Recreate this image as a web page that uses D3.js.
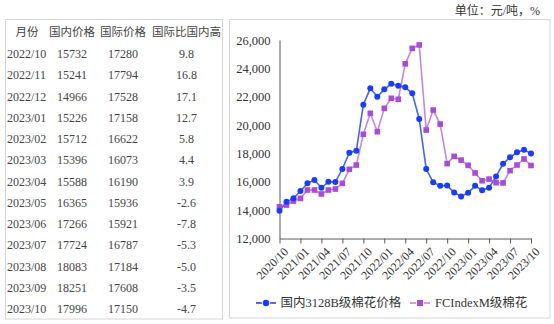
<!DOCTYPE html>
<html>
<head>
<meta charset="utf-8">
<script src="https://cdn.jsdelivr.net/npm/d3@7/dist/d3.min.js"></script>
<style>
  html, body { margin: 0; padding: 0; background: #fff; }
  svg { display: block; }
  text { font-family: "Liberation Serif", "Noto Sans CJK SC", serif; }
</style>
</head>
<body>
<svg id="chart" width="554" height="324"></svg>
<script>
// Monthly cotton prices, 2020/10 – 2023/10 (元/吨)
const months = [
  "2020/10","2020/11","2020/12","2021/01","2021/02","2021/03","2021/04","2021/05","2021/06",
  "2021/07","2021/08","2021/09","2021/10","2021/11","2021/12","2022/01","2022/02","2022/03",
  "2022/04","2022/05","2022/06","2022/07","2022/08","2022/09","2022/10","2022/11","2022/12",
  "2023/01","2023/02","2023/03","2023/04","2023/05","2023/06","2023/07","2023/08","2023/09","2023/10"
];

// 国内3128B级棉花价格
const domestic = [
  13950, 14590, 14830, 15350, 15890, 16120, 15580, 16000, 15990,
  16900, 18050, 18190, 21440, 22590, 22000, 22520, 22910, 22770,
  22660, 22240, 20430, 16900, 15960, 15720, 15732, 15241, 14966,
  15226, 15712, 15396, 15588, 16365, 17266, 17724, 18083, 18251, 17996
];

// FCIndexM级棉花
const international = [
  14240, 14360, 14640, 14830, 15420, 15420, 15140, 15420, 15490,
  15890, 16880, 17180, 19350, 20830, 19530, 21180, 21890, 21820,
  24320, 25410, 25650, 19650, 21060, 20070, 17280, 17794, 17528,
  17158, 16622, 16073, 16190, 15936, 15921, 16787, 17184, 17608, 17150
];

// 国际比国内高 (%), last 13 months
const spreadPct = ["9.8","16.8","17.1","12.7","5.8","4.4","3.9","-2.6","-7.8","-5.3","-5.0","-3.5","-4.7"];

const tableHeaders = ["月份", "国内价格", "国际价格", "国际比国内高"];
const yTicks = [12000, 14000, 16000, 18000, 20000, 22000, 24000, 26000];
const xTickMonths = months.filter((m, i) => i % 3 === 0);
const seriesNames = ["国内3128B级棉花价格", "FCIndexM级棉花"];
const unitLabel = "单位：元/吨，%";

const svg = d3.select("#chart");

// ---------- table ----------
const nRows = spreadPct.length;
const tableMonths = months.slice(-nRows);
const tableDom = domestic.slice(-nRows);
const tableIntl = international.slice(-nRows);

const tbl = svg.append("g");
tbl.append("rect")
  .attr("x", 5.5).attr("y", 19.5).attr("width", 217).attr("height", 299.5)
  .attr("fill", "none").attr("stroke", "#d6d6d6").attr("stroke-width", 1);

const colX = [27, 72, 123, 186.5];
const rowY = d3.scaleLinear().domain([0, 1]).range([54, 54 + 21.25]);
const txtColor = "#454545";

tbl.selectAll("text.hdr").data(tableHeaders).join("text")
  .attr("class", "hdr")
  .attr("x", (d, i) => colX[i]).attr("y", 32)
  .attr("dy", "0.35em")
  .attr("text-anchor", "middle")
  .attr("font-family", "Noto Sans CJK SC")
  .attr("font-size", 11.5)
  .attr("fill", txtColor)
  .text(d => d);

const rows = tbl.selectAll("g.row").data(d3.range(nRows)).join("g").attr("class", "row");
rows.append("text")
  .attr("x", 7).attr("y", i => rowY(i)).attr("dy", "0.35em")
  .attr("font-size", 12).attr("fill", txtColor)
  .text(i => tableMonths[i]);
rows.append("text")
  .attr("x", colX[1]).attr("y", i => rowY(i)).attr("dy", "0.35em")
  .attr("text-anchor", "middle")
  .attr("font-size", 12).attr("fill", txtColor)
  .text(i => tableDom[i]);
rows.append("text")
  .attr("x", colX[2]).attr("y", i => rowY(i)).attr("dy", "0.35em")
  .attr("text-anchor", "middle")
  .attr("font-size", 12).attr("fill", txtColor)
  .text(i => tableIntl[i]);
rows.append("text")
  .attr("x", colX[3]).attr("y", i => rowY(i)).attr("dy", "0.35em")
  .attr("text-anchor", "middle")
  .attr("font-size", 12).attr("fill", txtColor)
  .text(i => spreadPct[i]);

// ---------- unit label ----------
svg.append("text")
  .attr("x", 540).attr("y", 11).attr("dy", "0.35em")
  .attr("text-anchor", "end")
  .attr("font-family", "Noto Sans CJK SC")
  .attr("font-size", 12)
  .attr("fill", "#333")
  .text(unitLabel);

// ---------- chart panel ----------
svg.append("rect")
  .attr("x", 229.5).attr("y", 19.5).attr("width", 320.5).attr("height", 298.5)
  .attr("fill", "none").attr("stroke", "#d6d6d6").attr("stroke-width", 1);

const x = d3.scalePoint().domain(months).range([279.5, 531]);
const y = d3.scaleLinear().domain([12000, 26000]).range([238.5, 40]);

const axisColor = "#595959";

const yAxis = svg.append("g")
  .attr("transform", "translate(279.5,0)")
  .call(d3.axisLeft(y).tickValues(yTicks).tickSize(0).tickPadding(9)
        .tickFormat(d3.format(",")));
yAxis.select(".domain").attr("stroke", axisColor);
yAxis.selectAll("text")
  .attr("font-family", "Liberation Serif")
  .attr("font-size", 12.5)
  .attr("fill", "#333");

const xAxis = svg.append("g")
  .attr("transform", "translate(0,238.5)")
  .call(d3.axisBottom(x).tickValues(xTickMonths).tickSizeInner(5).tickSizeOuter(0));
xAxis.select(".domain").attr("stroke", axisColor);
xAxis.selectAll(".tick line").attr("stroke", axisColor);
xAxis.selectAll("text")
  .attr("font-family", "Liberation Serif")
  .attr("font-size", 12)
  .attr("fill", "#333")
  .attr("text-anchor", "end")
  .attr("dy", null)
  .attr("y", null)
  .attr("transform", "translate(9,14) rotate(-45)");

// ---------- series ----------
const blueLine = "#4466f2", blueMark = "#1a3cff";
const purpleLine = "#c486e6", purpleMark = "#a74bd8";

const line = d3.line().x((d, i) => x(months[i])).y(d => y(d));

svg.append("path").datum(international)
  .attr("fill", "none").attr("stroke", purpleLine).attr("stroke-width", 1.6)
  .attr("d", line);
svg.append("path").datum(domestic)
  .attr("fill", "none").attr("stroke", blueLine).attr("stroke-width", 1.6)
  .attr("d", line);

svg.append("g").selectAll("rect").data(international).join("rect")
  .attr("x", (d, i) => x(months[i]) - 2.8)
  .attr("y", d => y(d) - 2.8)
  .attr("width", 5.6).attr("height", 5.6)
  .attr("fill", purpleMark);

svg.append("g").selectAll("circle").data(domestic).join("circle")
  .attr("cx", (d, i) => x(months[i]))
  .attr("cy", d => y(d))
  .attr("r", 3)
  .attr("fill", blueMark);

// ---------- legend ----------
const lg = svg.append("g").attr("transform", "translate(0,303)");
lg.append("line").attr("x1", 256).attr("x2", 276).attr("y1", 0).attr("y2", 0)
  .attr("stroke", blueLine).attr("stroke-width", 1.6).attr("stroke-dasharray", "5,10");
lg.append("line").attr("x1", 256).attr("x2", 262).attr("y1", 0).attr("y2", 0)
  .attr("stroke", blueLine).attr("stroke-width", 1.6);
lg.append("line").attr("x1", 270).attr("x2", 276).attr("y1", 0).attr("y2", 0)
  .attr("stroke", blueLine).attr("stroke-width", 1.6);
lg.append("circle").attr("cx", 266).attr("cy", 0).attr("r", 3.2).attr("fill", blueMark);
lg.append("text").attr("x", 280.5).attr("y", 0).attr("dy", "0.35em")
  .attr("font-size", 12.5).attr("fill", "#333").text(seriesNames[0]);

lg.append("line").attr("x1", 410).attr("x2", 416).attr("y1", 0).attr("y2", 0)
  .attr("stroke", purpleLine).attr("stroke-width", 1.6);
lg.append("line").attr("x1", 424).attr("x2", 430).attr("y1", 0).attr("y2", 0)
  .attr("stroke", purpleLine).attr("stroke-width", 1.6);
lg.append("rect").attr("x", 417).attr("y", -3).attr("width", 6).attr("height", 6)
  .attr("fill", purpleMark);
lg.append("text").attr("x", 435).attr("y", 0).attr("dy", "0.35em")
  .attr("font-size", 12.5).attr("fill", "#333").text(seriesNames[1]);
</script>
</body>
</html>
